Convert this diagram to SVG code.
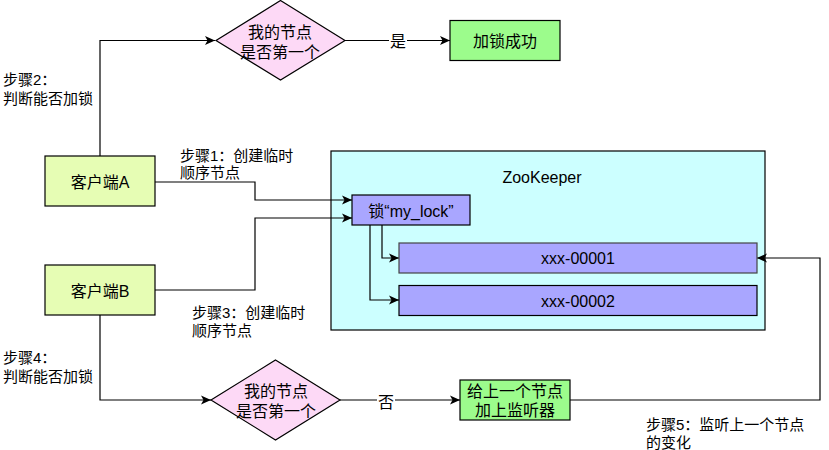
<svg xmlns="http://www.w3.org/2000/svg" width="829" height="450" viewBox="0 0 829 450" xml:lang="zh-CN">
<style>
text{font-family:"Liberation Sans","Noto Sans CJK SC",sans-serif;fill:#000}
.n{font-size:16px;text-anchor:middle;dominant-baseline:central}
.l{font-size:15px;dominant-baseline:central}
.e{fill:none;stroke:#000;stroke-width:1.2}
.b{stroke:#000;stroke-width:1.2}
</style>
<defs>
<marker id="a" markerUnits="userSpaceOnUse" markerWidth="12" markerHeight="10" refX="10" refY="5" orient="auto">
<path d="M0,0.5 L10,5 L0,9.5 L2.5,5 z" fill="#000"/>
</marker>
</defs>
<rect width="829" height="450" fill="#fff"/>
<g id="zookeeper">
<rect x="331" y="151" width="434" height="179" fill="#CCFFFF" class="b"/>
<text class="n" x="542" y="177">ZooKeeper</text>
</g>
<g id="edges">
<path class="e" d="M100,156 V40.5 H215" marker-end="url(#a)"/>
<path class="e" d="M345,40.5 H450" marker-end="url(#a)"/>
<path class="e" d="M155,182 H255 V200 H352" marker-end="url(#a)"/>
<path class="e" d="M155,290 H255 V218 H352" marker-end="url(#a)"/>
<path class="e" d="M382,225 V258 H399" marker-end="url(#a)"/>
<path class="e" d="M370,225 V300 H399" marker-end="url(#a)"/>
<path class="e" d="M100,315 V400 H211" marker-end="url(#a)"/>
<path class="e" d="M340,400 H460" marker-end="url(#a)"/>
<path class="e" d="M570,400 H820 V258 H757" marker-end="url(#a)"/>
<rect x="389" y="33" width="18" height="18" fill="#fff"/>
<text class="n" x="398" y="41">是</text>
<rect x="377" y="393" width="18" height="18" fill="#fff"/>
<text class="n" x="386" y="402">否</text>
</g>
<g id="decision-top">
<path d="M280.5,0.5 L345,40.5 L280.5,80 L216,40.5 Z" fill="#FDD9F6" class="b"/>
<text class="n" x="280" y="32">我的节点</text>
<text class="n" x="280" y="52">是否第一个</text>
</g>
<g id="lock-success">
<rect x="450" y="20.5" width="110" height="40" fill="#9CFC8C" class="b"/>
<text class="n" x="505" y="41">加锁成功</text>
</g>
<g id="client-a">
<rect x="45" y="156" width="110" height="50" fill="#E6FDB4" class="b"/>
<text class="n" x="100" y="182">客户端A</text>
</g>
<g id="client-b">
<rect x="45" y="265" width="110" height="50" fill="#E6FDB4" class="b"/>
<text class="n" x="100" y="291">客户端B</text>
</g>
<g id="my-lock">
<rect x="352" y="195" width="118" height="30" fill="#A9A6FF" class="b"/>
<text class="n" x="411" y="211">锁“my_lock”</text>
</g>
<g id="node-00001">
<rect x="399" y="243" width="358" height="30" fill="#A9A6FF" stroke="#444" stroke-width="1.2"/>
<text class="n" x="578" y="258">xxx-00001</text>
</g>
<g id="node-00002">
<rect x="399" y="285.5" width="358" height="30" fill="#A9A6FF" class="b"/>
<text class="n" x="578" y="301">xxx-00002</text>
</g>
<g id="decision-bottom">
<path d="M275.5,360 L340,400 L275.5,440 L211,400 Z" fill="#FDD9F6" class="b"/>
<text class="n" x="276" y="391">我的节点</text>
<text class="n" x="276" y="411">是否第一个</text>
</g>
<g id="add-watcher">
<rect x="460" y="380" width="110" height="40" fill="#9CFC8C" class="b"/>
<text class="n" x="515" y="391">给上一个节点</text>
<text class="n" x="515" y="410">加上监听器</text>
</g>
<g id="labels">
<text class="l" x="3" y="79">步骤2：</text>
<text class="l" x="3" y="98">判断能否加锁</text>
<text class="l" x="180" y="155">步骤1：创建临时</text>
<text class="l" x="180" y="172">顺序节点</text>
<text class="l" x="192" y="312">步骤3：创建临时</text>
<text class="l" x="192" y="330">顺序节点</text>
<text class="l" x="3" y="357">步骤4：</text>
<text class="l" x="3" y="376">判断能否加锁</text>
<text class="l" x="646" y="424">步骤5：监听上一个节点</text>
<text class="l" x="646" y="442">的变化</text>
</g>
</svg>
